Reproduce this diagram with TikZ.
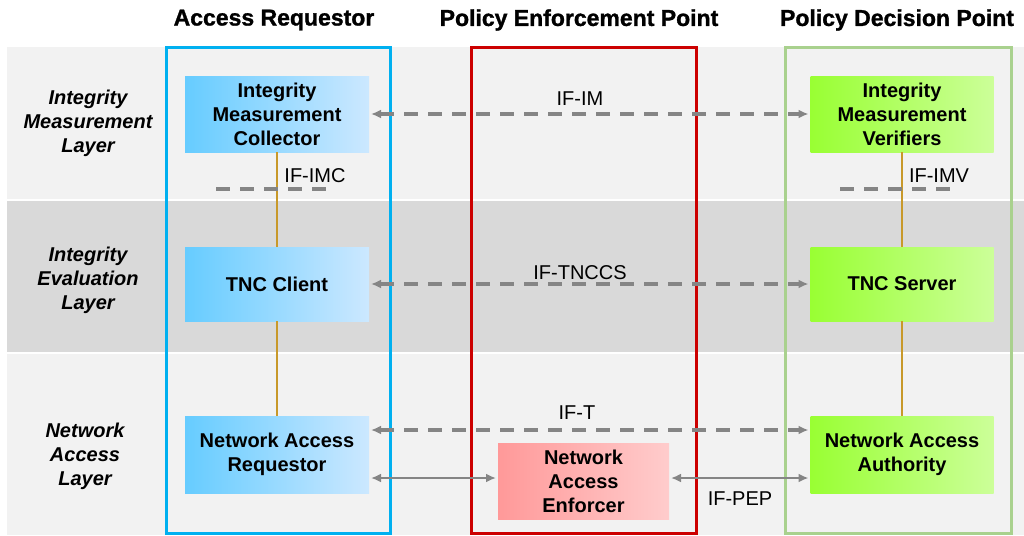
\documentclass[tikz,border=0pt]{standalone}
\usepackage{fontspec}
\setmainfont{Liberation Sans}
\newfontfamily\headfont{Liberation Sans}[BoldFeatures={FakeBold=1.2}]
\usetikzlibrary{arrows.meta}

\definecolor{bandlight}{HTML}{F2F2F2}
\definecolor{banddark}{HTML}{D9D9D9}
\definecolor{arblue}{HTML}{00B0F0}
\definecolor{pepred}{HTML}{CC0000}
\definecolor{pdpgreen}{HTML}{A9D18E}
\definecolor{linkgray}{HTML}{858585}
\definecolor{stackline}{HTML}{C8992A}
\definecolor{arL}{HTML}{66CCFF}
\definecolor{arR}{HTML}{CCE8FF}
\definecolor{pdpL}{HTML}{99FF33}
\definecolor{pdpR}{HTML}{CCFF99}
\definecolor{pepL}{HTML}{FF9999}
\definecolor{pepR}{HTML}{FFCCCC}

\begin{document}
\begin{tikzpicture}[x=1pt,y=-1pt,
  every node/.style={inner sep=0pt, outer sep=0pt},
  column/.style={line width=3pt},
  unitbox/.style={rectangle, minimum width=184pt, minimum height=76pt, align=center,
    font=\fontsize{20}{24}\selectfont\bfseries},
  arbox/.style={unitbox, left color=arL, right color=arR},
  pdpbox/.style={unitbox, left color=pdpL, right color=pdpR},
  pepbox/.style={unitbox, minimum width=171pt, left color=pepL, right color=pepR},
  header/.style={font=\fontsize{23}{27}\selectfont\headfont\bfseries},
  layer/.style={align=center, font=\fontsize{20}{24}\selectfont\bfseries\itshape},
  iflabel/.style={font=\fontsize{20}{24}\selectfont},
  dashlink/.style={draw=linkgray, line width=3.5pt, dash pattern=on 14pt off 10pt,
    {Latex[length=10pt,width=9pt]}-{Latex[length=10pt,width=9pt]}, shorten <=2pt, shorten >=2pt},
  solidlink/.style={draw=linkgray, line width=2.5pt,
    {Latex[length=10pt,width=9pt]}-{Latex[length=10pt,width=9pt]}, shorten <=2pt, shorten >=2pt},
  stack/.style={draw=stackline, line width=2pt},
  layersep/.style={draw=linkgray, line width=3.5pt, dash pattern=on 14pt off 10pt}
]
\useasboundingbox (0,0) rectangle (1024,535);

% layer bands
\fill[bandlight] (7,47) rectangle (1024,199);
\fill[banddark]  (7,201) rectangle (1024,352);
\fill[bandlight] (7,354) rectangle (1024,535);

% column frames
\draw[column, arblue]   (166,48) rectangle (390,533);
\draw[column, pepred]   (471,48) rectangle (696,533);
\draw[column, pdpgreen] (785,48) rectangle (1011,533);

% column headers
\node[header] (hAR)  at (274,20) {Access Requestor};
\node[header] (hPEP) at (579,20) {Policy Enforcement Point};
\node[header] (hPDP) at (897,20) {Policy Decision Point};

% layer names
\node[layer] (lIM) at (88,123) {Integrity\\Measurement\\Layer};
\node[layer] (lIE) at (88,280) {Integrity\\Evaluation\\Layer};
\node[layer] (lNA) at (85,456) {Network\\Access\\Layer};

% components
\node[arbox] (imc) at (277,114) {Integrity\\Measurement\\Collector};
\node[arbox, minimum height=74pt] (tncc) at (277,284) {TNC Client};
\node[arbox, minimum height=77pt] (nar) at (277,454.5) {Network Access\\Requestor};

\node[pdpbox, minimum width=183pt] (imv) at (902,114) {Integrity\\Measurement\\Verifiers};
\node[pdpbox, minimum width=183pt, minimum height=74pt] (tncs) at (902,284) {TNC Server};
\node[pdpbox, minimum width=183pt, minimum height=77pt] (naa) at (902,454.5) {Network Access\\Authority};

\node[pepbox] (nae) at (583.5,481) {Network\\Access\\Enforcer};

% vertical stacks
\draw[stack] (imc.south) -- (tncc.north);
\draw[stack] (tncc.south) -- (nar.north);
\draw[stack] (imv.south) -- (tncs.north);
\draw[stack] (tncs.south) -- (naa.north);

% layer separators
\coordinate (sepL1) at (216,189);
\coordinate (sepL2) at (326,189);
\coordinate (sepR1) at (840,189);
\coordinate (sepR2) at (952,189);
\draw[layersep] (sepL1) -- (sepL2);
\draw[layersep] (sepR1) -- (sepR2);

% interfaces
\draw[dashlink] (imc.east) -- (imv.west);
\draw[dashlink] (tncc.east) -- (tncs.west);
\draw[dashlink] ([yshift=24.5pt]nar.east) -- ([yshift=24.5pt]naa.west);
\draw[solidlink] ([yshift=-23.5pt]nar.east) -- ([yshift=3pt]nae.west);
\draw[solidlink] ([yshift=3pt]nae.east) -- ([yshift=-23.5pt]naa.west);

% interface labels
\node[iflabel] (ifimc) at (315,176) {IF-IMC};
\node[iflabel] (ifimv) at (939,176) {IF-IMV};
\node[iflabel] (ifim) at (580,99) {IF-IM};
\node[iflabel] (iftnccs) at (580,273) {IF-TNCCS};
\node[iflabel] (ift) at (577,413) {IF-T};
\node[iflabel] (ifpep) at (740,499) {IF-PEP};
\end{tikzpicture}
\end{document}
